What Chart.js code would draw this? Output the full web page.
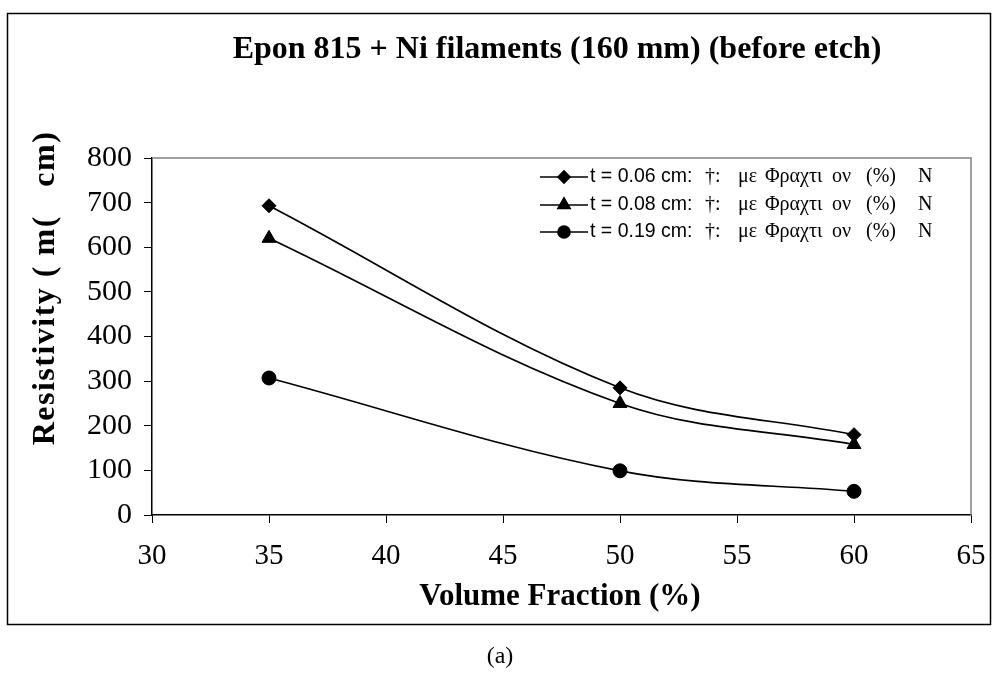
<!DOCTYPE html>
<html>
<head>
<meta charset="utf-8">
<script src="https://cdn.jsdelivr.net/npm/chart.js@4.4.1/dist/chart.umd.min.js"></script>
<style>
  html, body { margin: 0; padding: 0; background: #fff; }
  #wrap { width: 994px; height: 677px; position: relative; }
</style>
</head>
<body>
<div id="wrap"><canvas id="chart" width="994" height="677"></canvas></div>
<script>
// ── Data ──
const fractions = [35, 50, 60];
const seriesNames = ['t = 0.06 cm:', 't = 0.08 cm:', 't = 0.19 cm:'];
const rho006 = [693, 285, 180];
const rho008 = [620, 250, 158];
const rho019 = [307, 99, 53];
const xRange = [30, 65, 5];
const yRange = [0, 800, 100];

const chartTitle = 'Epon 815 + Ni filaments (160 mm) (before etch)';
const xTitle = 'Volume Fraction (%)';
const yTitle = 'Resistivity ( m(   cm)';
// the garbled symbol-font part of each legend entry, word by word
const legendTail = ['†:', 'με', 'Φραχτι', 'ον', '(%)', 'N'];
const caption = '(a)';

const SERIF = '"Liberation Serif", "Times New Roman", serif';
const SANS = '"Liberation Sans", Arial, sans-serif';

function pts(ys) {
    return fractions.map((x, i) => ({ x: x, y: ys[i] }));
}

const markers = [
    { style: 'rectRot', radius: 7 },
    { style: 'triangle', radius: 8 },
    { style: 'circle', radius: 7 }
];

const datasets = [rho006, rho008, rho019].map((ys, i) => ({
    label: seriesNames[i],
    data: pts(ys),
    borderColor: '#000',
    backgroundColor: '#000',
    borderWidth: 1.7,
    pointStyle: markers[i].style,
    pointRadius: markers[i].radius,
    pointBackgroundColor: '#000',
    pointBorderColor: '#000',
    pointBorderWidth: 1,
    tension: 0.35,
    fill: false
}));

// frame, plot border, titles and the legend
const decor = {
    id: 'decor',
    beforeDraw(chart) {
        const ctx = chart.ctx;
        ctx.save();
        ctx.fillStyle = '#fff';
        ctx.fillRect(0, 0, chart.width, chart.height);
        ctx.strokeStyle = '#000';
        ctx.lineWidth = 1.5;
        ctx.strokeRect(7.5, 13.5, 983, 611);
        ctx.restore();
    },
    afterDatasetsDraw(chart) {
        const ctx = chart.ctx;
        const a = chart.chartArea;
        ctx.save();
        // grey top and right of plot area
        ctx.strokeStyle = '#808080';
        ctx.lineWidth = 1.5;
        ctx.beginPath();
        ctx.moveTo(a.left, a.top);
        ctx.lineTo(a.right, a.top);
        ctx.lineTo(a.right, a.bottom);
        ctx.stroke();

        ctx.fillStyle = '#000';
        ctx.textAlign = 'center';
        ctx.textBaseline = 'middle';
        ctx.font = 'bold 32px ' + SERIF;
        ctx.fillText(chartTitle, 557, 50);
        ctx.font = 'bold 31px ' + SERIF;
        ctx.fillText(xTitle, 560, 597);
        ctx.save();
        ctx.translate(46, 288);
        ctx.rotate(-Math.PI / 2);
        ctx.font = 'bold 32px ' + SERIF;
        ctx.letterSpacing = '1.5px';
        ctx.fillText(yTitle, 0, 0);
        ctx.restore();

        ctx.font = '24px ' + SERIF;
        ctx.fillText(caption, 500, 657);

        // legend
        const rows = [177, 205, 232];
        const tailX = [705, 738, 765, 832, 866, 918];
        chart.data.datasets.forEach((ds, i) => {
            const y = rows[i];
            ctx.strokeStyle = '#000';
            ctx.lineWidth = 1.7;
            ctx.beginPath();
            ctx.moveTo(540, y);
            ctx.lineTo(588, y);
            ctx.stroke();
            Chart.helpers.drawPoint(ctx, {
                pointStyle: ds.pointStyle,
                radius: ds.pointRadius - 1,
                rotation: 0,
                borderWidth: 1
            }, 564, y);
            ctx.fillStyle = '#000';
            ctx.fill();
            ctx.textAlign = 'left';
            ctx.font = '19.5px ' + SANS;
            ctx.fillText(ds.label, 590, y);
            ctx.font = '20px ' + SERIF;
            legendTail.forEach((w, k) => ctx.fillText(w, tailX[k], y));
        });
        ctx.restore();
    }
};

new Chart(document.getElementById('chart'), {
    type: 'line',
    data: { datasets: datasets },
    options: {
        responsive: false,
        devicePixelRatio: 1,
        animation: false,
        layout: { padding: { top: 158, right: 23, left: 0, bottom: 0 } },
        plugins: {
            legend: { display: false },
            title: { display: false },
            tooltip: { enabled: false }
        },
        scales: {
            x: {
                type: 'linear',
                min: xRange[0],
                max: xRange[1],
                afterFit: s => {
                    s.height = 162;
                    s.paddingLeft = 0;
                    s.paddingRight = 0;
                },
                ticks: {
                    stepSize: xRange[2],
                    color: '#000',
                    padding: 16,
                    maxRotation: 0,
                    font: { family: SERIF, size: 29 }
                },
                grid: {
                    drawOnChartArea: false,
                    drawTicks: true,
                    tickLength: 8,
                    tickColor: '#000'
                },
                border: { color: '#000', width: 1.5 }
            },
            y: {
                min: yRange[0],
                max: yRange[1],
                afterFit: s => {
                    s.width = 152;
                    s.paddingTop = 0;
                    s.paddingBottom = 0;
                },
                ticks: {
                    stepSize: yRange[2],
                    color: '#000',
                    padding: 12,
                    font: { family: SERIF, size: 30 }
                },
                grid: {
                    drawOnChartArea: false,
                    drawTicks: true,
                    tickLength: 8,
                    tickColor: '#000'
                },
                border: { color: '#000', width: 1.5 }
            }
        }
    },
    plugins: [decor]
});
</script>
</body>
</html>
